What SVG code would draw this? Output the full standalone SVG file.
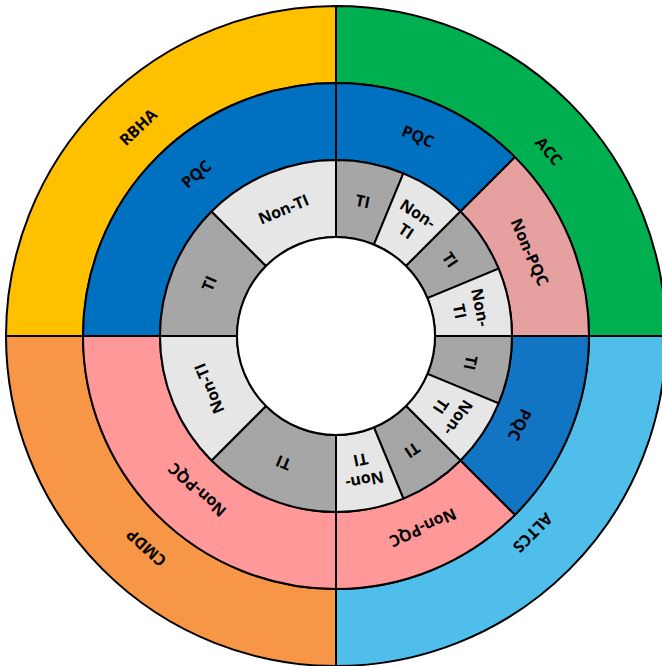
<svg xmlns="http://www.w3.org/2000/svg" width="662" height="666" viewBox="0 0 662 666">
<style>
.seg{stroke:#000;stroke-width:2;stroke-linejoin:round}
.lbl{font-family:"Open Sans","Liberation Sans",sans-serif;font-weight:700;font-size:16px;fill:#000;text-anchor:middle;dominant-baseline:central}
.ti{fill:#A6A6A6}
.nti{fill:#E6E6E6}
.pqc{fill:#0070C0}
.npqc{fill:#FF9999}
</style>
<rect width="662" height="666" fill="#fff"/>
<g id="outer-ring">
<g id="RBHA"><path class="seg" fill="#FFC000" d="M 6 336 A 330 330 0 0 1 336 6 L 336 83 A 253 253 0 0 0 83 336 Z"/><text class="lbl" transform="translate(138,127) rotate(-43.5)">RBHA</text></g>
<g id="ACC"><path class="seg" fill="#00B050" d="M 336 6 A 330 330 0 0 1 666 336 L 589 336 A 253 253 0 0 0 336 83 Z"/><text class="lbl" transform="translate(549,151) rotate(49)">ACC</text></g>
<g id="ALTCS"><path class="seg" fill="#4FBEEA" d="M 666 336 A 330 330 0 0 1 336 666 L 336 589 A 253 253 0 0 0 589 336 Z"/><text class="lbl" transform="translate(533,533) rotate(135)">ALTCS</text></g>
<g id="CMDP"><path class="seg" fill="#F79646" d="M 336 666 A 330 330 0 0 1 6 336 L 83 336 A 253 253 0 0 0 336 589 Z"/><text class="lbl" transform="translate(146,548) rotate(222)">CMDP</text></g>
</g>
<g id="middle-ring">
<g id="RBHA-PQC"><path class="seg pqc" d="M 83 336 A 253 253 0 0 1 336 83 L 336 160 A 176 176 0 0 0 160 336 Z"/><text class="lbl" transform="translate(196,174) rotate(-41)">PQC</text></g>
<g id="ACC-PQC"><path class="seg pqc" d="M 336 83 A 253 253 0 0 1 514.89 157.11 L 460.45 211.55 A 176 176 0 0 0 336 160 Z"/><text class="lbl" transform="translate(418,136) rotate(22.5)">PQC</text></g>
<g id="ACC-NonPQC"><path class="seg" fill="#E6A0A0" d="M 514.89 157.11 A 253 253 0 0 1 589 336 L 512 336 A 176 176 0 0 0 460.45 211.55 Z"/><text class="lbl" transform="translate(530,252) rotate(66.5)">Non-PQC</text></g>
<g id="ALTCS-PQC"><path class="seg" fill="#1275C4" d="M 589 336 A 253 253 0 0 1 514.89 514.89 L 460.45 460.45 A 176 176 0 0 0 512 336 Z"/><text class="lbl" transform="translate(520,425) rotate(115.8)">PQC</text></g>
<g id="ALTCS-NonPQC"><path class="seg npqc" d="M 514.89 514.89 A 253 253 0 0 1 336 589 L 336 512 A 176 176 0 0 0 460.45 460.45 Z"/><text class="lbl" transform="translate(423,528) rotate(155.6)">Non-PQC</text></g>
<g id="CMDP-NonPQC"><path class="seg npqc" d="M 336 589 A 253 253 0 0 1 83 336 L 160 336 A 176 176 0 0 0 336 512 Z"/><text class="lbl" transform="translate(197,490) rotate(222)">Non-PQC</text></g>
</g>
<g id="inner-ring">
<g id="i1"><path class="seg ti" d="M 336 160 A 176 176 0 0 1 403.35 173.4 L 373.89 244.54 A 99 99 0 0 0 336 237 Z"/><text class="lbl" transform="translate(362.82,201.14) rotate(11.25)">TI</text></g>
<g id="i2"><path class="seg nti" d="M 403.35 173.4 A 176 176 0 0 1 460.45 211.55 L 406 266 A 99 99 0 0 0 373.89 244.54 Z"/><text class="lbl" transform="translate(412.39,221.67) rotate(33.75)"><tspan x="0" y="-10">Non-</tspan><tspan x="0" y="11">TI</tspan></text></g>
<g id="i3"><path class="seg ti" d="M 460.45 211.55 A 176 176 0 0 1 498.6 268.65 L 427.46 298.11 A 99 99 0 0 0 406 266 Z"/><text class="lbl" transform="translate(450.33,259.61) rotate(56.25)">TI</text></g>
<g id="i4"><path class="seg nti" d="M 498.6 268.65 A 176 176 0 0 1 512 336 L 435 336 A 99 99 0 0 0 427.46 298.11 Z"/><text class="lbl" transform="translate(470.86,309.18) rotate(78.75)"><tspan x="0" y="-10">Non-</tspan><tspan x="0" y="11">TI</tspan></text></g>
<g id="i5"><path class="seg ti" d="M 512 336 A 176 176 0 0 1 498.6 403.35 L 427.46 373.89 A 99 99 0 0 0 435 336 Z"/><text class="lbl" transform="translate(470.86,362.82) rotate(101.25)">TI</text></g>
<g id="i6"><path class="seg nti" d="M 498.6 403.35 A 176 176 0 0 1 460.45 460.45 L 406 406 A 99 99 0 0 0 427.46 373.89 Z"/><text class="lbl" transform="translate(450.33,412.39) rotate(123.75)"><tspan x="0" y="-10">Non-</tspan><tspan x="0" y="11">TI</tspan></text></g>
<g id="i7"><path class="seg ti" d="M 460.45 460.45 A 176 176 0 0 1 403.35 498.6 L 373.89 427.46 A 99 99 0 0 0 406 406 Z"/><text class="lbl" transform="translate(412.39,450.33) rotate(146.25)">TI</text></g>
<g id="i8"><path class="seg nti" d="M 403.35 498.6 A 176 176 0 0 1 336 512 L 336 435 A 99 99 0 0 0 373.89 427.46 Z"/><text class="lbl" transform="translate(362.82,470.86) rotate(168.75)"><tspan x="0" y="-10">Non-</tspan><tspan x="0" y="11">TI</tspan></text></g>
<g id="i9"><path class="seg ti" d="M 336 512 A 176 176 0 0 1 211.55 460.45 L 266 406 A 99 99 0 0 0 336 435 Z"/><text class="lbl" transform="translate(283.38,463.03) rotate(202.5)">TI</text></g>
<g id="i10"><path class="seg nti" d="M 211.55 460.45 A 176 176 0 0 1 160 336 L 237 336 A 99 99 0 0 0 266 406 Z"/><text class="lbl" transform="translate(208.97,388.62) rotate(247.5)">Non-TI</text></g>
<g id="i11"><path class="seg ti" d="M 160 336 A 176 176 0 0 1 211.55 211.55 L 266 266 A 99 99 0 0 0 237 336 Z"/><text class="lbl" transform="translate(208.97,283.38) rotate(-67.5)">TI</text></g>
<g id="i12"><path class="seg nti" d="M 211.55 211.55 A 176 176 0 0 1 336 160 L 336 237 A 99 99 0 0 0 266 266 Z"/><text class="lbl" transform="translate(283.38,208.97) rotate(-22.5)">Non-TI</text></g>
</g>
<g id="hole"><circle cx="336" cy="336" r="99" fill="#fff" stroke="#000" stroke-width="2"/></g>
</svg>
